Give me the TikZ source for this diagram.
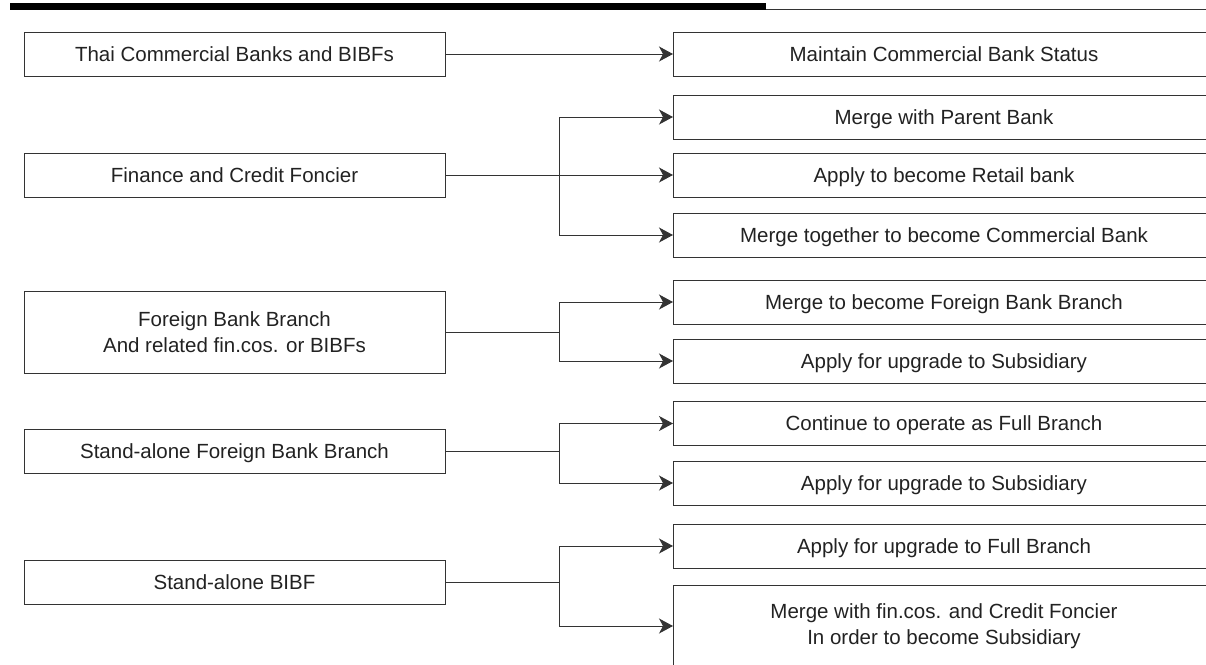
\documentclass[tikz,border=0pt]{standalone}
\usepackage{fontspec}
\setmainfont{Liberation Sans}
\usetikzlibrary{arrows.meta}
\definecolor{ln}{HTML}{333333}
\definecolor{tx}{HTML}{222222}
\tikzset{
  lbox/.style={draw=ln, line width=1pt, minimum width=421pt, inner sep=0pt, align=center,
    text=tx, font=\fontsize{20.5}{26}\selectfont},
  rbox/.style={draw=ln, line width=1pt, minimum width=541pt, inner sep=0pt, align=center,
    text=tx, font=\fontsize{20.5}{26}\selectfont, anchor=west},
  one/.style={minimum height=44pt, text height=14.7pt, text depth=0pt},
  two/.style={minimum height=82pt},
  arr/.style={draw=ln, line width=1pt, -{Stealth[length=14pt,width=15pt,inset=4pt]}},
  conn/.style={draw=ln, line width=1pt}
}
\begin{document}
\begin{tikzpicture}[x=1pt,y=-1pt]
\useasboundingbox (0,0) rectangle (1206,664);
% top rule
\fill[black] (10,3) rectangle (766,10);
\coordinate (ra) at (766,9.5);
\coordinate (rb) at (1206,9.5);
\draw[conn] (ra) -- (rb);

\begin{scope}
\clip (0,0) rectangle (1206,664);
% left boxes
\node[lbox,one] (L1) at (234.5,54) {Thai Commercial Banks and BIBFs};
\node[lbox,one] (L2) at (234.5,175) {Finance and Credit Foncier};
\node[lbox,two] (L3) at (234.5,332) {Foreign Bank Branch\\And related fin.cos. or BIBFs};
\node[lbox,one] (L4) at (234.5,451) {Stand-alone Foreign Bank Branch};
\node[lbox,one] (L5) at (234.5,582) {Stand-alone BIBF};
% right boxes
\node[rbox,one] (R1) at (673,54) {Maintain Commercial Bank Status};
\node[rbox,one] (R2) at (673,117) {Merge with Parent Bank};
\node[rbox,one] (R3) at (673,175) {Apply to become Retail bank};
\node[rbox,one] (R4) at (673,235) {Merge together to become Commercial Bank};
\node[rbox,one] (R5) at (673,302) {Merge to become Foreign Bank Branch};
\node[rbox,one] (R6) at (673,361) {Apply for upgrade to Subsidiary};
\node[rbox,one] (R7) at (673,423.5) {Continue to operate as Full Branch};
\node[rbox,one] (R8) at (673,483) {Apply for upgrade to Subsidiary};
\node[rbox,one] (R9) at (673,546) {Apply for upgrade to Full Branch};
\node[rbox,two] (R10) at (673,626) {Merge with fin.cos. and Credit Foncier\\In order to become Subsidiary};
\end{scope}

% branch points
\coordinate (B2) at (559,175);
\coordinate (B3) at (559,332);
\coordinate (B4) at (559,451);
\coordinate (B5) at (559,582);

% connectors
\draw[arr] (L1.east) -- (R1.west);

\draw[arr] (L2.east) -- (R3.west);
\draw[arr] (B2) |- (R2.west);
\draw[arr] (B2) |- (R4.west);

\draw[conn] (L3.east) -- (B3);
\draw[arr] (B3) |- (R5.west);
\draw[arr] (B3) |- (R6.west);

\draw[conn] (L4.east) -- (B4);
\draw[arr] (B4) |- (R7.west);
\draw[arr] (B4) |- (R8.west);

\draw[conn] (L5.east) -- (B5);
\draw[arr] (B5) |- (R9.west);
\draw[arr] (B5) |- (R10.west);
\end{tikzpicture}
\end{document}
